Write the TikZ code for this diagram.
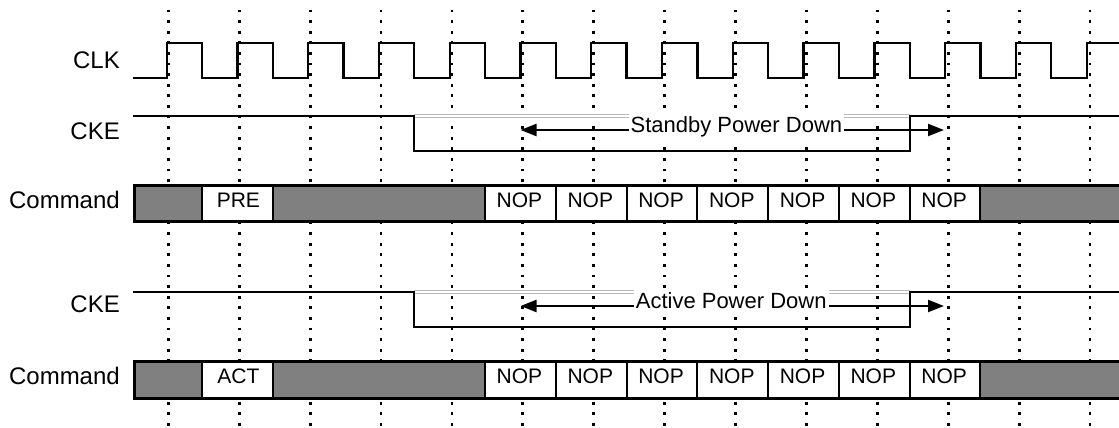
\documentclass[tikz,border=0pt]{standalone}
\usepackage{fontspec}
\setmainfont{Liberation Sans}
\usetikzlibrary{arrows.meta}
\begin{document}
\begin{tikzpicture}[x=1pt,y=-1pt,
  sig/.style={line width=2.3pt,line join=miter},
  gridline/.style={line width=2.8pt,dash pattern=on 2.8pt off 7.8pt},
  ghost/.style={draw=black!27,double=white,double distance=2pt,line width=0.9pt},
  lbl/.style={inner sep=0pt,anchor=base east,font=\fontsize{24}{28}\selectfont},
  celltxt/.style={inner sep=0pt,anchor=base,font=\fontsize{21}{25}\selectfont},
  pdtxt/.style={anchor=base,fill=white,inner xsep=2pt,inner ysep=3pt,font=\fontsize{22}{26}\selectfont},
  arr/.style={line width=2.3pt,{Triangle[length=16pt,width=12pt]}-{Triangle[length=16pt,width=12pt]}},
  rowframe/.style={line width=2.9pt,line join=miter},
  divider/.style={line width=2pt}
]
\useasboundingbox (0,0) rectangle (1119,428);
\clip (0,0) rectangle (1119,428);

% dotted clock grid
\foreach \k in {0,...,13}
  \draw[gridline] ({168.3+70.9*\k},9.6) -- ({168.3+70.9*\k},432);

% CLK
\draw[sig] (133,78.3) \foreach \k in {0,...,13} {
  -- ({166.7+70.77*\k},78.3) -- ({166.7+70.77*\k},43.3)
  -- ({202+70.77*\k},43.3) -- ({202+70.77*\k},78.3) };

% CKE (standby)
\draw[ghost] (414,115.8) -- (909.7,115.8);
\draw[sig] (133,115.7) -- (414,115.7) -- (414,150.7) -- (909.7,150.7)
  -- (909.7,115.7) -- (1125,115.7);
\coordinate (s1l) at (520.5,130);
\coordinate (s1r) at (944,130);
\draw[arr] (s1l) -- (s1r);
\node[pdtxt] (sbpd) at (736.4,132) {Standby Power Down};

% CKE (active)
\draw[ghost] (414,292.1) -- (909.7,292.1);
\draw[sig] (133,292) -- (414,292) -- (414,326.7) -- (909.7,326.7)
  -- (909.7,292) -- (1125,292);
\coordinate (s2l) at (520.5,306);
\coordinate (s2r) at (944,306);
\draw[arr] (s2l) -- (s2r);
\node[pdtxt] (acpd) at (731.2,308) {Active Power Down};

% Command rows
\foreach \ya/\yb/\txt/\base [count=\r] in {185.5/221.7/PRE/207.3, 361.3/398.7/ACT/383.3} {
  \fill[gray] (134.3,\ya) rectangle (1125,\yb);
  \fill[white] (202,\ya) rectangle (272.8,\yb);
  \fill[white] (485.1,\ya) rectangle (980.5,\yb);
  \foreach \k in {0,1,4,5,6,7,8,9,10,11}
    \draw[divider] ({202+70.77*\k},\ya) -- ({202+70.77*\k},\yb);
  \draw[rowframe] (1125,\ya) -- (134.3,\ya) -- (134.3,\yb) -- (1125,\yb);
  \node[celltxt] (op\r) at (238.4,\base) {\txt};
  \foreach \k in {4,...,10}
    \node[celltxt] (nop\r-\k) at ({202+70.77*\k+34.4},\base) {NOP};
}

% signal labels
\node[lbl] (lclk) at (120,68.3) {CLK};
\node[lbl] (lcke1) at (120,139.3) {CKE};
\node[lbl] (lcmd1) at (120,208.3) {Command};
\node[lbl] (lcke2) at (120,312.3) {CKE};
\node[lbl] (lcmd2) at (120,384) {Command};
\end{tikzpicture}
\end{document}
